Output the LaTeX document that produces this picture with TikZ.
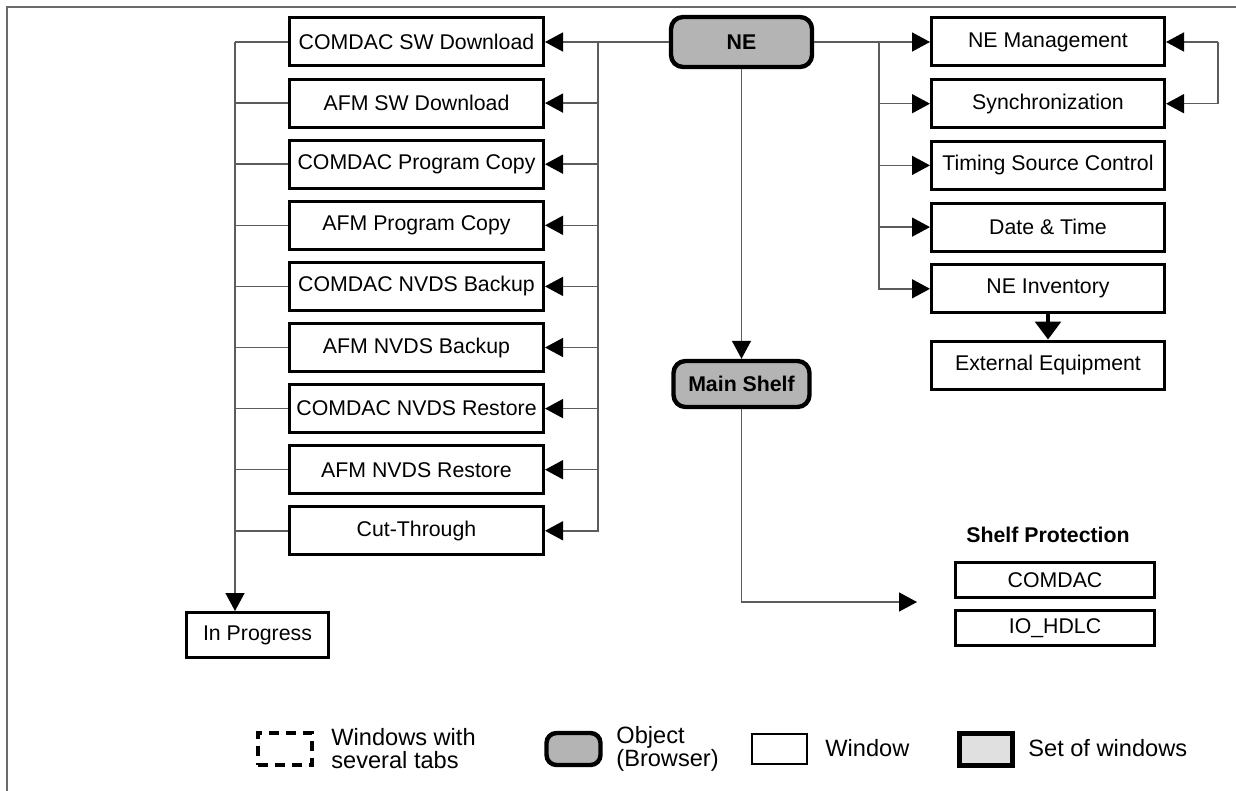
\documentclass[tikz,border=0pt]{standalone}
\usepackage{fontspec}
\setmainfont{Liberation Sans}
\usepackage{tikz}
\usetikzlibrary{arrows.meta,calc,positioning}
\definecolor{objeto}{HTML}{B4B4B4}
\definecolor{conjunto}{HTML}{E0E0E0}
\definecolor{linea}{HTML}{5C5C5C}
\definecolor{marco}{HTML}{6A6A6A}
\newcommand{\letracaja}{\fontsize{10.65pt}{12pt}\selectfont}
\newcommand{\letraleyenda}{\fontsize{11.8pt}{11.6pt}\selectfont}
\tikzset{
  ventana/.style={draw=black,line width=1.5pt,fill=white,inner sep=0pt,minimum width=127pt,minimum height=24pt,font=\letracaja},
  ventanader/.style={ventana,minimum width=116.5pt},
  ventanaprot/.style={ventana,minimum width=99.5pt,minimum height=17.5pt},
  ventanaprog/.style={ventana,minimum width=71pt,minimum height=22.5pt},
  objetonav/.style={draw=black,line width=2.2pt,fill=objeto,rounded corners=6pt,inner sep=0pt,minimum width=70.5pt,minimum height=25pt,font=\letracaja\bfseries},
  titulo/.style={font=\letracaja\bfseries,inner sep=0pt},
  conexion/.style={draw=linea,line width=0.75pt},
  flecha/.style={conexion,-{Triangle[length=9pt,width=9.5pt,color=black]}},
  flechagruesa/.style={draw=black,line width=1.6pt,-{Triangle[length=9pt,width=13pt]}},
  marcoext/.style={draw=marco,line width=1.2pt},
  leyenda/.style={font=\letraleyenda,align=left,anchor=west,inner sep=0pt},
  icopestanas/.style={draw=black,line width=2pt,dash pattern=on 5pt off 3.5pt,minimum width=27pt,minimum height=16pt,inner sep=0pt},
  icoobjeto/.style={objetonav,rounded corners=5pt,minimum width=27pt,minimum height=16pt},
  icoventana/.style={draw=black,line width=1pt,fill=white,minimum width=27.5pt,minimum height=15pt,inner sep=0pt},
  icoconjunto/.style={draw=black,line width=2.5pt,fill=conjunto,minimum width=26.5pt,minimum height=16pt,inner sep=0pt},
}
\begin{document}
\begin{tikzpicture}[x=0.5pt,y=-0.5pt]
\useasboundingbox (0,0) rectangle (1236,791);
\coordinate (m0) at (7,791);
\coordinate (m1) at (7,7);
\coordinate (m2) at (1236,7);
\draw[marcoext] (m0) -- (m1) -- (m2);
\coordinate (i1) at (416.5,42);
\coordinate (i2) at (416.5,103.1);
\coordinate (i3) at (416.5,164.2);
\coordinate (i4) at (416.5,225.3);
\coordinate (i5) at (416.5,286.4);
\coordinate (i6) at (416.5,347.5);
\coordinate (i7) at (416.5,408.6);
\coordinate (i8) at (416.5,469.7);
\coordinate (i9) at (416.5,530.8);
\coordinate (d1) at (1048,42);
\coordinate (d2) at (1048,103.7);
\coordinate (d3) at (1048,165.4);
\coordinate (d4) at (1048,227.1);
\coordinate (d5) at (1048,288.8);
\node[objetonav] (ne) at (741.5,42) {NE};
\node[objetonav,minimum width=68pt,minimum height=23pt] (estante) at (741.5,384) {Main Shelf};
\node[ventana] (cswd) at (i1) {COMDAC SW Download};
\node[ventana] (aswd) at (i2) {AFM SW Download};
\node[ventana] (cpc) at (i3) {COMDAC Program Copy};
\node[ventana] (apc) at (i4) {AFM Program Copy};
\node[ventana] (cbk) at (i5) {COMDAC NVDS Backup};
\node[ventana] (abk) at (i6) {AFM NVDS Backup};
\node[ventana] (crs) at (i7) {COMDAC NVDS Restore};
\node[ventana] (ars) at (i8) {AFM NVDS Restore};
\node[ventana] (corte) at (i9) {Cut-Through};
\node[ventanaprog] (enprog) at (257.5,635) {In Progress};
\node[ventanader] (gest) at (d1) {NE Management};
\node[ventanader] (sinc) at (d2) {Synchronization};
\node[ventanader] (reloj) at (d3) {Timing Source Control};
\node[ventanader] (fecha) at (d4) {Date \& Time};
\node[ventanader] (inv) at (d5) {NE Inventory};
\node[ventanader] (ext) at (1048,365) {External Equipment};
\node[titulo] (prot) at (1048,535) {Shelf Protection};
\node[ventanaprot] (pcom) at (1055,580) {COMDAC};
\node[ventanaprot] (phdlc) at (1055,628) {IO\_HDLC};
\coordinate (bi) at (598,42);
\coordinate (bizq) at (235,42);
\coordinate (bd) at (879,42);
\coordinate (lz1) at (1218,42);
\coordinate (lz2) at (1218,103.7);
\coordinate (pflecha) at (917,602);
\draw[flecha] (ne.west) -- (cswd.east);
\draw[flecha] (bi) |- (aswd.east);
\draw[flecha] (bi) |- (cpc.east);
\draw[flecha] (bi) |- (apc.east);
\draw[flecha] (bi) |- (cbk.east);
\draw[flecha] (bi) |- (abk.east);
\draw[flecha] (bi) |- (crs.east);
\draw[flecha] (bi) |- (ars.east);
\draw[flecha] (bi) |- (corte.east);
\draw[conexion] (bizq) -- (cswd.west);
\draw[conexion] (bizq) |- (aswd.west);
\draw[conexion] (bizq) |- (cpc.west);
\draw[conexion] (bizq) |- (apc.west);
\draw[conexion] (bizq) |- (cbk.west);
\draw[conexion] (bizq) |- (abk.west);
\draw[conexion] (bizq) |- (crs.west);
\draw[conexion] (bizq) |- (ars.west);
\draw[conexion] (bizq) |- (corte.west);
\draw[flecha] (bizq) -- (bizq |- enprog.north);
\draw[flecha] (ne.east) -- (gest.west);
\draw[flecha] (bd) |- (sinc.west);
\draw[flecha] (bd) |- (reloj.west);
\draw[flecha] (bd) |- (fecha.west);
\draw[flecha] (bd) |- (inv.west);
\draw[flecha] (lz1) -- (gest.east);
\draw[flecha] (lz1) -- (lz2) -- (sinc.east);
\draw[flechagruesa] (inv.south) -- (ext.north);
\draw[flecha] (ne.south) -- (estante.north);
\draw[flecha] (estante.south) |- (pflecha);
\node[icopestanas] (ley1) at (285,749) {};
\node[leyenda] (tl1) at (331,748.5) {Windows with\\several tabs};
\node[icoobjeto] (ley2) at (573.5,749) {};
\node[leyenda] (tl2) at (616,748.5) {Object\\(Browser)};
\node[icoventana] (ley3) at (779.5,748.5) {};
\node[leyenda] (tl3) at (825,748) {Window};
\node[icoconjunto] (ley4) at (985.5,749) {};
\node[leyenda] (tl4) at (1028,748) {Set of windows};
\end{tikzpicture}
\end{document}
